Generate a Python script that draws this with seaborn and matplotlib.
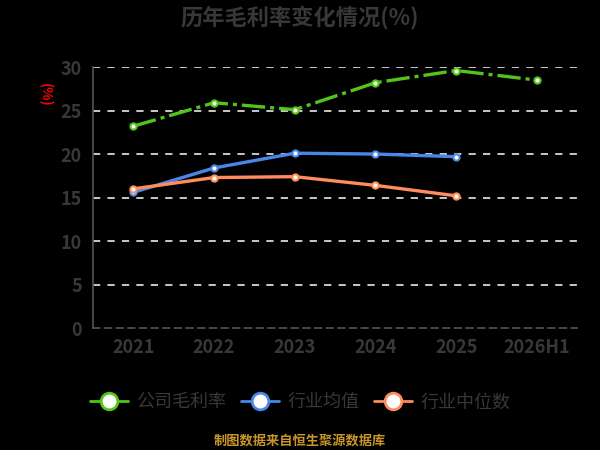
import pandas as pd
import numpy as np
import matplotlib.pyplot as plt
import seaborn as sns
from matplotlib.lines import Line2D

# data
years = ["2021", "2022", "2023", "2024", "2025", "2026H1"]
company = [23.2, 25.9, 25.1, 28.2, 29.6, 28.5]
industry_avg = [15.6, 18.4, 20.1, 20.0, 19.7, np.nan]
industry_median = [16.0, 17.3, 17.4, 16.4, 15.2, np.nan]

title = "历年毛利率变化情况(%)"
series_names = ["公司毛利率", "行业均值", "行业中位数"]
footer = "制图数据来自恒生聚源数据库"

green = "#52c41a"
blue = "#4a86e8"
orange = "#ff8c5a"
text_grey = "#383838"

sns.set_style("dark")
plt.rcParams["font.family"] = ["Noto Sans CJK SC", "DejaVu Sans"]

df = pd.DataFrame({"year": years, "company": company,
                   "avg": industry_avg, "median": industry_median})
df["pos"] = range(len(years))

fig = plt.figure(figsize=(6, 4.5), dpi=100, facecolor="black")
ax = fig.add_axes([0.155, 0.271, 0.807, 0.58])
ax.set_facecolor("black")

mk = dict(marker="o", markersize=4.5, markerfacecolor="white", markeredgewidth=1.5)
sns.lineplot(data=df, x="pos", y="company", ax=ax, color=green, linewidth=2.4,
             linestyle=(0, (7, 1.5, 1.2, 1.5)), markeredgecolor=green, **mk)
sns.lineplot(data=df.dropna(), x="pos", y="avg", ax=ax, color=blue, linewidth=2.4,
             markeredgecolor=blue, **mk)
sns.lineplot(data=df.dropna(), x="pos", y="median", ax=ax, color=orange, linewidth=2.4,
             markeredgecolor=orange, **mk)

ax.set_xlim(-0.5, len(years) - 0.5)
ax.set_ylim(0, 30)
ax.set_yticks([0, 5, 10, 15, 20, 25, 30])
ax.set_xticks(range(len(years)))
ax.set_xticklabels(years)
ax.set_xticks(np.arange(-0.5, len(years)), minor=True)
ax.tick_params(axis="x", which="major", length=0, pad=7, labelsize=13, labelcolor=text_grey)
ax.tick_params(axis="x", which="minor", length=5, width=1, color="#555555", direction="out")
ax.tick_params(axis="y", length=5, width=1, color="#555555", pad=3, labelsize=13, labelcolor=text_grey)
for lbl in ax.get_xticklabels() + ax.get_yticklabels():
    lbl.set_fontweight("bold")
ax.set_xlabel("")
ax.set_ylabel("")

ax.grid(False)
for v in [5, 10, 15, 20, 25, 30]:
    ax.axhline(v, color="#d9d9d9", linewidth=1.3, linestyle=(0, (4, 4)), zorder=0)

for s in ["top", "right"]:
    ax.spines[s].set_visible(False)
ax.spines["left"].set_color("#555555")
ax.spines["left"].set_linewidth(1.2)
ax.spines["bottom"].set_color("#555555")
ax.spines["bottom"].set_linewidth(1.2)
ax.spines["bottom"].set_linestyle((0, (4, 3)))

fig.text(0.5, 0.962, title, ha="center", va="center", fontsize=16, fontweight="bold", color=text_grey)
fig.text(0.075, 0.79, "(%)", ha="center", va="center", rotation=-90, fontsize=10,
         fontweight="bold", color="red")

handles = [Line2D([0], [0], color=c, linewidth=2, marker="o", markersize=12,
                  markerfacecolor="white", markeredgecolor=c, markeredgewidth=2)
           for c in [green, blue, orange]]
leg = fig.legend(handles, series_names, loc="center", bbox_to_anchor=(0.5, 0.106), ncol=3,
                 frameon=False, fontsize=13, handlelength=2.1, columnspacing=0.85, handletextpad=0.45)
for t in leg.get_texts():
    t.set_color(text_grey)

fig.text(0.5, 0.02, footer, ha="center", va="center", fontsize=9.5, fontweight="bold", color="#c8962a")

fig.savefig("out.png", dpi=100, facecolor="black")
